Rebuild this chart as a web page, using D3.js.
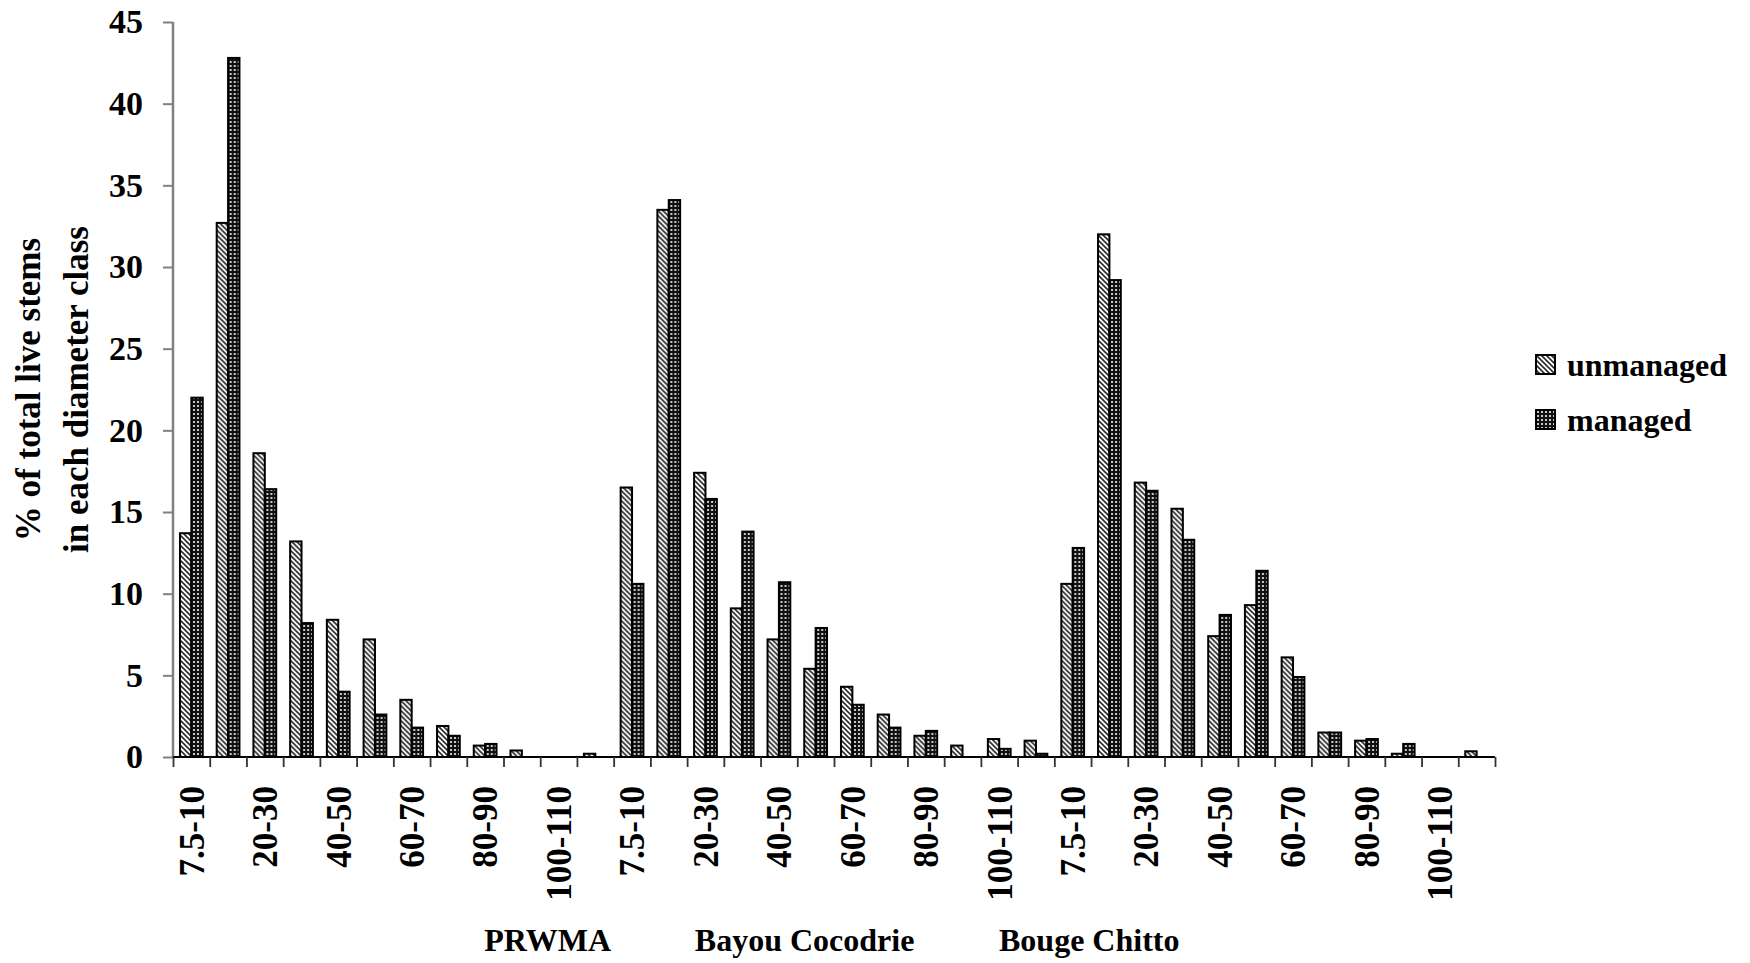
<!DOCTYPE html>
<html>
<head>
<meta charset="utf-8">
<script src="https://cdn.jsdelivr.net/npm/d3@7"></script>
<style>
  html, body { margin: 0; padding: 0; background: #fff; }
  svg { display: block; }
  text { font-family: "Liberation Serif", "Times New Roman", serif; font-weight: bold; fill: #000; }
</style>
</head>
<body>
<script>
// ---------- data ----------
const sites = ["PRWMA", "Bayou Cocodrie", "Bouge Chitto"];
const classes = ["7.5-10", "10-20", "20-30", "30-40", "40-50", "50-60",
                 "60-70", "70-80", "80-90", "90-100", "100-110", "110-120"];
const seriesNames = ["unmanaged", "managed"];
const unmanaged = [
  13.7, 32.7, 18.6, 13.2, 8.4, 7.2, 3.5, 1.9, 0.7, 0.4, 0, 0.2,
  16.5, 33.5, 17.4, 9.1, 7.2, 5.4, 4.3, 2.6, 1.3, 0.7, 1.1, 1.0,
  10.6, 32.0, 16.8, 15.2, 7.4, 9.3, 6.1, 1.5, 1.0, 0.2, 0, 0.35
];
const managed = [
  22.0, 42.8, 16.4, 8.2, 4.0, 2.6, 1.8, 1.3, 0.8, 0, 0, 0,
  10.6, 34.1, 15.8, 13.8, 10.7, 7.9, 3.2, 1.8, 1.6, 0, 0.5, 0.2,
  12.8, 29.2, 16.3, 13.3, 8.7, 11.4, 4.9, 1.5, 1.1, 0.8, 0, 0
];
const yTicks = [0, 5, 10, 15, 20, 25, 30, 35, 40, 45];
const yTitle = ["% of total live stems", "in each diameter class"];

// ---------- layout ----------
const W = 1750, H = 963;
const mLeft = 173, mRight = 1495, mTop = 22, mBottom = 757;
const siteLabelAt = [10.2, 17.2, 24.95]; // in category units along the axis

const cats = [];
sites.forEach((s, si) => classes.forEach((c, ci) => cats.push({ site: s, cls: c, idx: si * classes.length + ci, ci })));
const rows = cats.map((c, i) => ({ ...c, unmanaged: unmanaged[i], managed: managed[i] }));

const svg = d3.select("body").append("svg").attr("width", W).attr("height", H);

// patterns
const defs = svg.append("defs");
const hatch = defs.append("pattern").attr("id", "hatch").attr("patternUnits", "userSpaceOnUse")
  .attr("width", 5).attr("height", 5);
hatch.append("rect").attr("width", 5).attr("height", 5).attr("fill", "#fff");
hatch.append("path").attr("d", "M0,0 L5,5 M-1,4 L1,6 M4,-1 L6,1")
  .attr("stroke", "#2a2a2a").attr("stroke-width", 1.6);
const dots = defs.append("pattern").attr("id", "dots").attr("patternUnits", "userSpaceOnUse")
  .attr("width", 4).attr("height", 4);
dots.append("rect").attr("width", 4).attr("height", 4).attr("fill", "#111");
dots.append("rect").attr("x", 1).attr("y", 1).attr("width", 2).attr("height", 2).attr("fill", "#c8c8c8");
const fills = { unmanaged: "url(#hatch)", managed: "url(#dots)" };

// scales
const x = d3.scaleBand().domain(d3.range(cats.length)).range([mLeft, mRight])
  .paddingInner(0.38).paddingOuter(0.19);
const xs = d3.scaleBand().domain(seriesNames).range([0, x.bandwidth()]);
const xl = d3.scaleLinear().domain([0, cats.length]).range([mLeft, mRight]);
const y = d3.scaleLinear().domain([0, 45]).range([mBottom, mTop]);

// bars
const g = svg.append("g");
g.selectAll("g.cat").data(rows).join("g").attr("class", "cat")
  .attr("transform", d => `translate(${x(d.idx)},0)`)
  .selectAll("rect").data(d => seriesNames.map(k => ({ key: k, v: d[k] })).filter(e => e.v > 0))
  .join("rect")
  .attr("x", e => xs(e.key))
  .attr("width", xs.bandwidth())
  .attr("y", e => y(e.v))
  .attr("height", e => y(0) - y(e.v))
  .attr("fill", e => fills[e.key])
  .attr("stroke", "#000").attr("stroke-width", 2);

// y axis
const yAxis = svg.append("g").attr("transform", `translate(${mLeft},0)`)
  .call(d3.axisLeft(y).tickValues(yTicks).tickSize(10).tickPadding(20).tickFormat(d3.format("d")));
yAxis.select(".domain").attr("stroke", "#808080").attr("stroke-width", 2.5).attr("d", `M0,${mTop}V${mBottom}`);
yAxis.selectAll(".tick line").attr("stroke", "#808080").attr("stroke-width", 2);
yAxis.selectAll(".tick text").style("font-size", "34px").style("font-family", "Liberation Serif").style("font-weight", "bold").attr("fill", "#000");

// x axis (boundary ticks)
const xAxis = svg.append("g").attr("transform", `translate(0,${mBottom})`)
  .call(d3.axisBottom(xl).tickValues(d3.range(cats.length + 1)).tickSize(10).tickFormat(""));
xAxis.select(".domain").attr("stroke", "#000").attr("stroke-width", 2).attr("d", `M${mLeft},0H${mRight}`);
xAxis.selectAll(".tick line").attr("stroke", "#333").attr("stroke-width", 1.8);

// x category labels (every other class)
svg.append("g").selectAll("text").data(rows.filter(d => d.ci % 2 === 0)).join("text")
  .attr("transform", d => `translate(${x(d.idx) + x.bandwidth() / 2},${mBottom + 29}) rotate(-90)`)
  .attr("text-anchor", "end").attr("dy", "0.35em")
  .style("font-size", "35px")
  .text(d => d.cls);

// site labels
svg.append("g").selectAll("text").data(sites).join("text")
  .attr("x", (d, i) => xl(siteLabelAt[i])).attr("y", 951)
  .attr("text-anchor", "middle").style("font-size", "32px")
  .text(d => d);

// y title
svg.append("g").selectAll("text").data(yTitle).join("text")
  .attr("transform", (d, i) => `translate(${28 + i * 48},${(mTop + mBottom) / 2}) rotate(-90)`)
  .attr("text-anchor", "middle").attr("dy", "0.35em")
  .style("font-size", "35px")
  .text(d => d);

// legend
const lg = svg.append("g").attr("transform", "translate(1536,355)");
const li = lg.selectAll("g").data(seriesNames).join("g").attr("transform", (d, i) => `translate(0,${i * 55})`);
li.append("rect").attr("width", 19).attr("height", 19).attr("fill", d => fills[d]).attr("stroke", "#000").attr("stroke-width", 2);
li.append("text").attr("x", 31).attr("y", 10).attr("dy", "0.35em").style("font-size", "32px").text(d => d);
</script>
</body>
</html>
